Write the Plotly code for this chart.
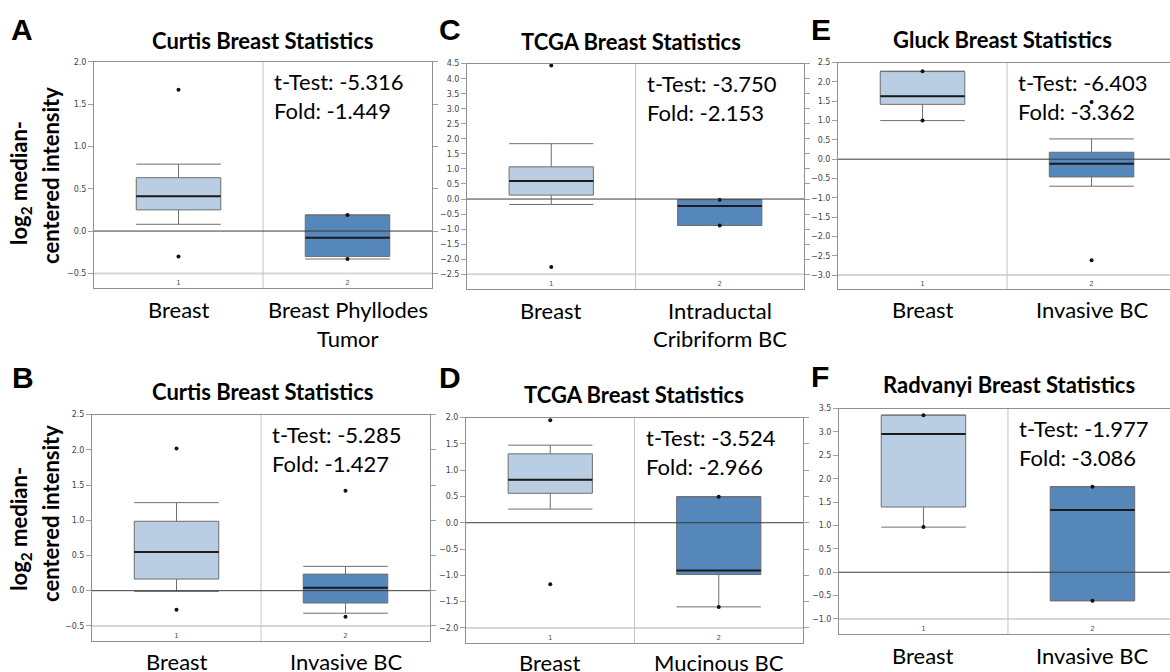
import plotly.graph_objects as go

W, H = 1170, 672

# ---------------- data (stats order: min, p10, q1, median, q3, p90, max) ----------------
A_title = "Curtis Breast Statistics"
A_cats = ["Breast", "Breast Phyllodes<br>Tumor"]
A_g1 = [-0.30, 0.08, 0.25, 0.41, 0.63, 0.79, 1.67]
A_g2 = [-0.33, -0.33, -0.30, -0.08, 0.19, 0.19, 0.19]
A_stats = ["-5.316", "-1.449"]
A_ticks = [-0.5, 0.0, 0.5, 1.0, 1.5, 2.0]

B_title = "Curtis Breast Statistics"
B_cats = ["Breast", "Invasive BC"]
B_g1 = [-0.27, -0.01, 0.165, 0.55, 0.985, 1.25, 2.02]
B_g2 = [-0.37, -0.32, -0.175, 0.04, 0.235, 0.345, 1.42]
B_stats = ["-5.285", "-1.427"]
B_ticks = [-0.5, 0.0, 0.5, 1.0, 1.5, 2.0, 2.5]

C_title = "TCGA Breast Statistics"
C_cats = ["Breast", "Intraductal<br>Cribriform BC"]
C_g1 = [-2.26, -0.18, 0.13, 0.60, 1.07, 1.84, 4.44]
C_g2 = [-0.88, -0.88, -0.88, -0.23, -0.02, -0.02, -0.02]
C_stats = ["-3.750", "-2.153"]
C_ticks = [-2.5, -2.0, -1.5, -1.0, -0.5, 0.0, 0.5, 1.0, 1.5, 2.0, 2.5, 3.0, 3.5, 4.0, 4.5]

D_title = "TCGA Breast Statistics"
D_cats = ["Breast", "Mucinous BC"]
D_g1 = [-1.17, 0.26, 0.56, 0.815, 1.31, 1.475, 1.95]
D_g2 = [-1.60, -1.60, -0.985, -0.91, 0.495, 0.495, 0.495]
D_stats = ["-3.524", "-2.966"]
D_ticks = [-2.0, -1.5, -1.0, -0.5, 0.0, 0.5, 1.0, 1.5, 2.0]

E_title = "Gluck Breast Statistics"
E_cats = ["Breast", "Invasive BC"]
E_g1 = [1.0, 1.0, 1.42, 1.63, 2.27, 2.28, 2.28]
E_g2 = [-2.62, -0.70, -0.46, -0.12, 0.18, 0.525, 1.48]
E_stats = ["-6.403", "-3.362"]
E_ticks = [-3.0, -2.5, -2.0, -1.5, -1.0, -0.5, 0.0, 0.5, 1.0, 1.5, 2.0, 2.5]

F_title = "Radvanyi Breast Statistics"
F_cats = ["Breast", "Invasive BC"]
F_g1 = [0.965, 0.965, 1.395, 2.955, 3.36, 3.36, 3.36]
F_g2 = [-0.61, -0.61, -0.61, 1.33, 1.83, 1.83, 1.83]
F_stats = ["-1.977", "-3.086"]
F_ticks = [-1.0, -0.5, 0.0, 0.5, 1.0, 1.5, 2.0, 2.5, 3.0, 3.5]

# ---------------- layout geometry (pixels) ----------------
panels = [
    ("A", A_title, A_cats, A_g1, A_g2, A_stats, A_ticks, (94, 432, 58, 286), (-0.676, 2.0005), 2.5, "ticks", (22, 26), (263, 37), 307),
    ("C", C_title, C_cats, C_g1, C_g2, C_stats, C_ticks, (467, 804, 60, 287), (-3.0, 4.5005), 2.5, "ticks", (450, 26), (631, 38), 308),
    ("E", E_title, E_cats, E_g1, E_g2, E_stats, E_ticks, (838, 1170, 59, 287), (-3.37, 2.5005), 2.464, False, (821, 26), (1002, 36), 307),
    ("B", B_title, B_cats, B_g1, B_g2, B_stats, B_ticks, (92, 430, 413, 641), (-0.717, 2.5005), 2.5, "ticks", (23, 376), (263, 390), 661),
    ("D", D_title, D_cats, D_g1, D_g2, D_stats, D_ticks, (466, 803, 416, 643), (-2.29, 2.0005), 2.5, "ticks", (450, 376), (634, 393), 662),
    ("F", F_title, F_cats, F_g1, F_g2, F_stats, F_ticks, (839, 1170, 407, 634), (-1.326, 3.5005), 2.459, False, (820, 375), (1009, 383), 655),
]

BIG = "Lato"
SMALL = "DejaVu Sans"
FILL1 = "#b9cee3"
FILL2 = "#5587ba"
EDGE = "#6e6e6e"
FRAME = "#8f8f8f"


def PX(x):
    return x / W


def PY(y):
    return 1 - y / H


fig = go.Figure()
annotations = []
shapes = []
layout_axes = {}

for i, (letter, title, cats, g1, g2, stats, ticks, box, yr, xend, mirror, lpos, tpos, cy) in enumerate(panels):
    n = "" if i == 0 else str(i + 1)
    xa, ya = "x" + n, "y" + n
    left, right, top, bottom = box

    for pos, g, fill in ((1, g1, FILL1), (2, g2, FILL2)):
        fig.add_trace(go.Box(
            x=[pos], q1=[g[2]], median=[g[3]], q3=[g[4]],
            lowerfence=[g[1]], upperfence=[g[5]],
            width=0.5, whiskerwidth=1, boxpoints=False,
            fillcolor=fill, line=dict(color=EDGE, width=1),
            xaxis=xa, yaxis=ya, showlegend=False, hoverinfo="skip",
        ))
        fig.add_trace(go.Scatter(
            x=[pos - 0.25, pos + 0.25], y=[g[3], g[3]], mode="lines",
            line=dict(color="#1b1b1b", width=2),
            xaxis=xa, yaxis=ya, showlegend=False, hoverinfo="skip",
        ))
        fig.add_trace(go.Scatter(
            x=[pos, pos], y=[g[0], g[6]], mode="markers",
            marker=dict(size=4, color="#111111"),
            xaxis=xa, yaxis=ya, showlegend=False, hoverinfo="skip",
        ))

    layout_axes["xaxis" + n] = dict(
        domain=[PX(left), PX(right)], range=[0.5, xend], anchor=ya,
        tickvals=[1, 2], ticktext=["1", "2"], ticklabelposition="inside",
        ticks="", tickfont=dict(family=SMALL, size=7, color="#555555"),
        showgrid=False, zeroline=False, showline=True, linecolor=FRAME,
        linewidth=1, mirror=True, fixedrange=True,
    )
    layout_axes["yaxis" + n] = dict(
        domain=[PY(bottom), PY(top)], range=list(yr), anchor=xa,
        tickvals=ticks, tickformat=".1f", ticks="outside", ticklen=5,
        tickcolor="#a0a0a0", tickfont=dict(family=SMALL, size=8, color="#444444"),
        showgrid=False, zeroline=False, showline=True, linecolor=FRAME,
        linewidth=1, mirror=mirror, fixedrange=True,
    )

    # reference lines
    shapes.append(dict(type="line", xref=xa + " domain", x0=0, x1=1, yref=ya,
                       y0=min(ticks), y1=min(ticks), line=dict(color="#d6d6d6", width=2), layer="below"))
    shapes.append(dict(type="line", xref=xa, x0=1.5, x1=1.5, yref=ya + " domain",
                       y0=0, y1=1, line=dict(color="#c4c4c4", width=1), layer="below"))
    shapes.append(dict(type="line", xref=xa + " domain", x0=0, x1=1, yref=ya,
                       y0=0, y1=0, line=dict(color="#3a3a3a", width=1), layer="above"))

    # panel letter
    annotations.append(dict(text="<b>" + letter + "</b>", x=PX(lpos[0]), y=PY(lpos[1]), xref="paper", yref="paper",
                            showarrow=False, xanchor="center", yanchor="middle",
                            font=dict(family="Liberation Sans", size=30, color="black")))
    # title
    annotations.append(dict(text="<b>" + title + "</b>", x=PX(tpos[0]), y=PY(tpos[1]), xref="paper", yref="paper",
                            showarrow=False, xanchor="center", yanchor="middle",
                            font=dict(family=BIG, size=22, color="black")))
    # statistics text
    annotations.append(dict(text="t-Test: " + stats[0], x=PX(left + 178), y=PY(top + 20), xref="paper", yref="paper",
                            showarrow=False, xanchor="left", yanchor="middle",
                            font=dict(family=BIG, size=22, color="black")))
    annotations.append(dict(text="Fold: " + stats[1], x=PX(left + 178), y=PY(top + 49), xref="paper", yref="paper",
                            showarrow=False, xanchor="left", yanchor="middle",
                            font=dict(family=BIG, size=22, color="black")))
    # category labels (one annotation per text line)
    for pos, cat in ((1, cats[0]), (2, cats[1])):
        for k, line in enumerate(cat.split("<br>")):
            annotations.append(dict(text=line, x=pos, xref=xa, y=PY(cy + 29 * k), yref="paper",
                                    showarrow=False, xanchor="center", yanchor="middle",
                                    font=dict(family=BIG, size=22, color="black")))

# y-axis titles (panels A and B)
for (cx, cy1, cy2) in ((35, 180, 173), (35, 528, 513)):
    annotations.append(dict(text="<b>log<sub>2</sub> median-</b>", x=PX(cx - 15), y=PY(cy1), xref="paper", yref="paper",
                            showarrow=False, textangle=-90, xanchor="center", yanchor="middle",
                            font=dict(family=BIG, size=22, color="black")))
    annotations.append(dict(text="<b>centered intensity</b>", x=PX(cx + 16), y=PY(cy2), xref="paper", yref="paper",
                            showarrow=False, textangle=-90, xanchor="center", yanchor="middle",
                            font=dict(family=BIG, size=22, color="black")))

fig.update_layout(
    width=W, height=H, margin=dict(l=0, r=0, t=0, b=0),
    paper_bgcolor="white", plot_bgcolor="white",
    annotations=annotations, shapes=shapes, showlegend=False,
    **layout_axes,
)

fig.write_html(
    "out.html",
    config={"displayModeBar": False},
    post_script="document.body.style.margin='0';document.body.style.overflow='hidden';",
)
